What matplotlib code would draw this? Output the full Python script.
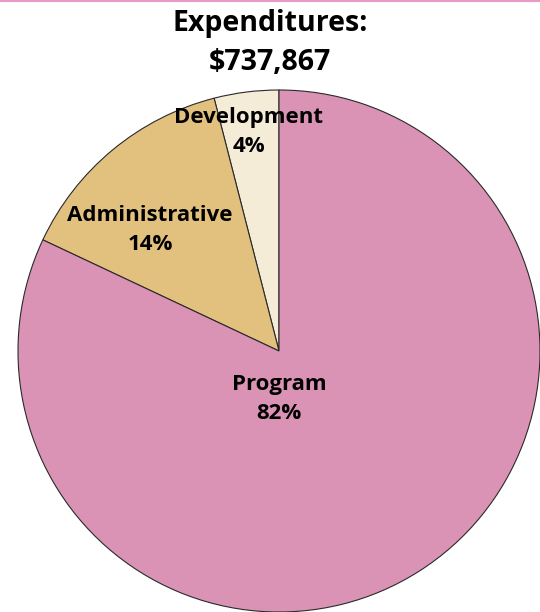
import matplotlib.pyplot as plt
from matplotlib.lines import Line2D

plt.rcParams['font.family'] = ['Open Sans', 'DejaVu Sans']

categories = ['Development', 'Administrative', 'Program']
shares = [4.0, 14.0, 82.0]
colors = ['#f5ecd7', '#e2c17f', '#db93b5']
title = 'Expenditures:\n$737,867'

# label positions in pixel coords (y from bottom)
label_pos = [(249, 480), (150, 382), (279, 213)]

fig = plt.figure(figsize=(5.4, 6.12), dpi=100)
ax = fig.add_axes([0, 0, 1, 1])

wedges, _ = ax.pie(shares, colors=colors, startangle=90, counterclock=True,
                   center=(279, 261), radius=261, frame=True,
                   wedgeprops=dict(edgecolor='#2a2a2a', linewidth=0.8))
ax.set_xlim(0, 540)
ax.set_ylim(0, 612)
ax.axis('off')

for name, val, (x, y) in zip(categories, shares, label_pos):
    ax.text(x, y, f'{name}\n{val:.0f}%', ha='center', va='center',
            fontsize=16, fontweight='bold', linespacing=1.55)

fig.text(0.5, 1 - 43 / 612, title, ha='center', va='center',
         fontsize=20.5, fontweight='bold', linespacing=1.5)

fig.add_artist(Line2D([0, 1], [1 - 0.8 / 612, 1 - 0.8 / 612],
                      transform=fig.transFigure, color='#e899c8', linewidth=1.5))

fig.savefig('out.png', dpi=100)
